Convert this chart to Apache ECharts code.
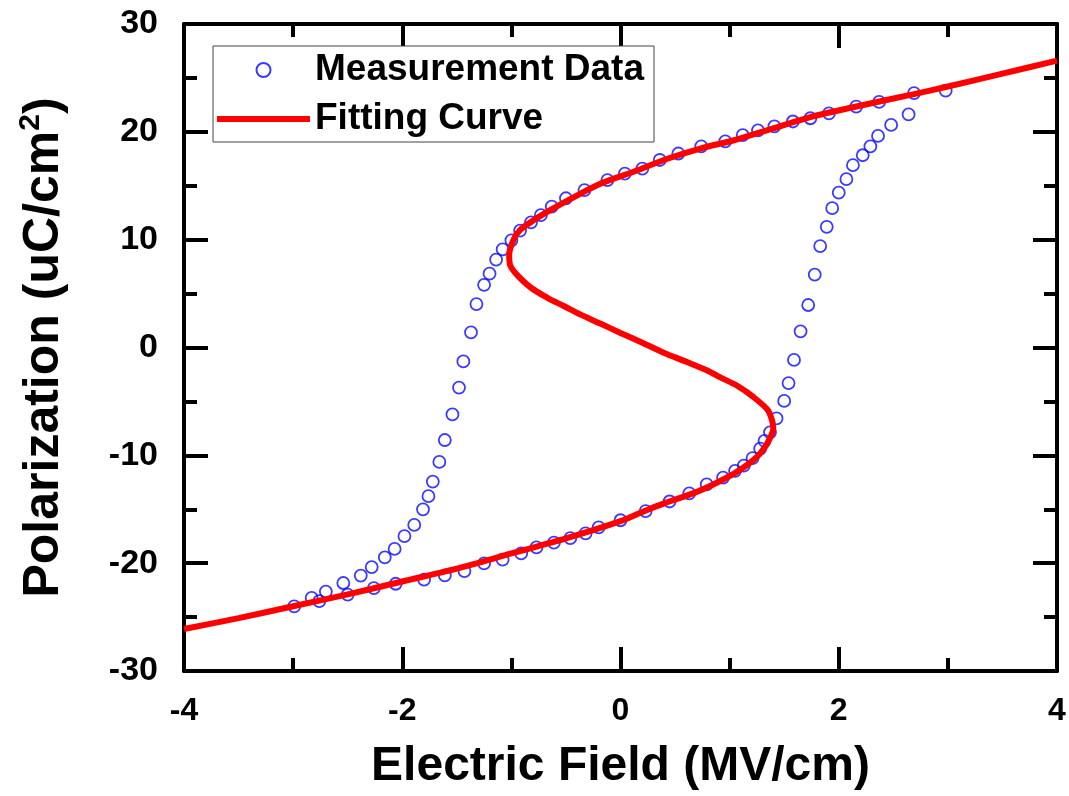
<!DOCTYPE html>
<html>
<head>
<meta charset="utf-8">
<script src="https://cdn.jsdelivr.net/npm/echarts@6/dist/echarts.min.js"></script>
<style>
html,body{margin:0;padding:0;background:#fff;}
#chart{width:1069px;height:796px;}
</style>
</head>
<body>
<div id="chart"></div>
<script>
// Measurement data: descending (upper) branch, right to left
var measDownE = [2.98,2.69,2.37,2.16,1.91,1.74,1.58,1.41,1.26,1.12,0.96,0.74,0.53,0.36,0.20,0.04,-0.12,-0.33,-0.50,-0.63,-0.73,-0.82,-0.92,-1.00,-1.08,-1.14,-1.20,-1.25,-1.32,-1.37,-1.44,-1.48,-1.54,-1.61,-1.66,-1.72,-1.76,-1.81,-1.89,-1.98,-2.07,-2.16,-2.28,-2.38,-2.54,-2.70,-2.83,-2.99];
var measDownP = [23.83,23.59,22.77,22.34,21.72,21.26,20.96,20.51,20.13,19.70,19.12,18.65,17.99,17.39,16.58,16.12,15.53,14.60,13.84,13.07,12.27,11.61,10.84,9.94,9.10,8.15,6.85,5.81,4.03,1.41,-1.29,-3.72,-6.21,-8.58,-10.61,-12.43,-13.79,-15.01,-16.45,-17.50,-18.68,-19.46,-20.36,-21.15,-21.84,-22.63,-23.22,-24.01];
// Measurement data: ascending (lower) branch, left to right
var measUpE = [-2.76,-2.50,-2.26,-2.06,-1.80,-1.61,-1.43,-1.25,-1.08,-0.91,-0.77,-0.61,-0.46,-0.32,-0.20,0.00,0.23,0.45,0.63,0.79,0.94,1.05,1.13,1.21,1.28,1.32,1.37,1.43,1.50,1.54,1.59,1.65,1.72,1.78,1.83,1.89,1.94,2.00,2.07,2.13,2.22,2.29,2.36,2.48,2.64];
var measUpP = [-23.52,-22.91,-22.32,-21.91,-21.52,-21.14,-20.73,-20.02,-19.68,-19.10,-18.54,-18.10,-17.67,-17.24,-16.68,-16.02,-15.18,-14.28,-13.53,-12.70,-12.06,-11.44,-10.96,-10.26,-9.38,-8.65,-7.87,-6.58,-4.95,-3.30,-1.15,1.50,3.94,6.76,9.41,11.19,12.92,14.36,15.61,16.91,17.83,18.66,19.62,20.64,21.61];
// Fitting curve (S-shaped)
var fitE = [-4.0,-3.5,-3.0,-2.5,-2.0,-1.5,-1.0,-0.5,0.0,0.21,0.4,0.67,0.85,1.04,1.16,1.25,1.32,1.37,1.40,1.39,1.35,1.22,1.07,0.92,0.80,0.61,0.39,0.21,0.0,-0.18,-0.37,-0.52,-0.67,-0.82,-0.95,-1.01,-1.02,-0.98,-0.92,-0.79,-0.64,-0.49,-0.18,0.12,0.43,0.73,1.04,1.34,1.74,2.14,2.69,3.0,3.5,4.0];
var fitP = [-26.1,-25.1,-24.0,-22.9,-21.7,-20.5,-19.1,-17.7,-16.1,-15.2,-14.45,-13.5,-12.7,-11.7,-10.9,-10.15,-9.3,-8.4,-7.5,-6.8,-5.8,-4.61,-3.55,-2.8,-2.15,-1.35,-0.46,0.4,1.35,2.2,3.07,3.85,4.61,5.54,6.76,7.6,8.6,9.99,10.9,11.84,12.76,13.6,15.2,16.3,17.5,18.45,19.22,20.14,21.37,22.3,23.5,24.2,25.4,26.6];

var xMin = -4, xMax = 4, xStep = 2;
var yMin = -30, yMax = 30, yStep = 10;
var seriesNames = ['Measurement Data', 'Fitting Curve'];
var xTitle = 'Electric Field (MV/cm)';

function zip(a, b) { return a.map(function (v, i) { return [v, b[i]]; }); }
var measData = zip(measDownE, measDownP).concat(zip(measUpE, measUpP));
var fitData = zip(fitE, fitP);

var regular = "'Liberation Sans', Arial, sans-serif";

function tickCfg() {
  return {
    axisLine: { show: true, onZero: false, lineStyle: { color: '#000', width: 4 } },
    axisTick: { show: true, inside: true, length: 24, lineStyle: { color: '#000', width: 4 } },
    minorTick: { show: true, splitNumber: 2, length: 13, lineStyle: { color: '#000', width: 4 } },
    splitLine: { show: false }
  };
}

var chart = echarts.init(document.getElementById('chart'));
chart.setOption({
  animation: false,
  backgroundColor: '#fff',
  grid: { left: 184, right: 12, top: 24, bottom: 122, containLabel: false },
  legend: {
    left: 213, top: 46, orient: 'vertical',
    padding: [4, 10, 3, 4], itemGap: 9,
    itemWidth: 93, itemHeight: 14,
    borderColor: '#444', borderWidth: 1, borderRadius: 0,
    backgroundColor: '#fff',
    textStyle: { fontFamily: regular, fontWeight: 'bold', fontSize: 37, color: '#000', lineHeight: 40 },
    data: [
      { name: seriesNames[0] },
      { name: seriesNames[1], icon: 'path://M0,0 H93 V6 H0 Z' }
    ]
  },
  xAxis: [
    Object.assign({}, tickCfg(), {
      type: 'value', min: xMin, max: xMax, interval: xStep, position: 'bottom',
      axisLabel: { margin: 24, fontFamily: regular, fontWeight: 'bold', fontSize: 32, color: '#000' },
      name: xTitle, nameLocation: 'middle', nameGap: 72,
      nameTextStyle: { fontFamily: regular, fontWeight: 'bold', fontSize: 48, color: '#000' }
    }),
    Object.assign({}, tickCfg(), {
      type: 'value', min: xMin, max: xMax, interval: xStep, position: 'top',
      axisLabel: { show: false }
    })
  ],
  yAxis: [
    Object.assign({}, tickCfg(), {
      type: 'value', min: yMin, max: yMax, interval: yStep, position: 'left',
      axisLabel: { margin: 26, fontFamily: regular, fontWeight: 'bold', fontSize: 34, color: '#000' },
      name: '{a|Polarization (uC/cm}{s|2}{a|)}', nameLocation: 'middle', nameGap: 112, nameRotate: 90,
      nameTextStyle: {
        rich: {
          a: { fontFamily: regular, fontWeight: 'bold', fontSize: 50, color: '#000', lineHeight: 56 },
          s: { fontFamily: regular, fontWeight: 'bold', fontSize: 30, color: '#000', lineHeight: 56, verticalAlign: 'top' }
        }
      }
    }),
    Object.assign({}, tickCfg(), {
      type: 'value', min: yMin, max: yMax, interval: yStep, position: 'right',
      axisLabel: { show: false }
    })
  ],
  series: [
    {
      name: seriesNames[0], type: 'scatter', data: measData,
      symbol: 'circle', symbolSize: 12,
      itemStyle: { color: 'rgba(255,255,255,0)', borderColor: '#0a0aff', borderWidth: 1.8 },
      z: 3
    },
    {
      name: seriesNames[1], type: 'line', data: fitData,
      showSymbol: false, symbol: 'none', smooth: 0.3,
      lineStyle: { color: '#ff0000', width: 6 },
      itemStyle: { color: '#ff0000' },
      z: 4
    }
  ]
});
</script>
</body>
</html>
